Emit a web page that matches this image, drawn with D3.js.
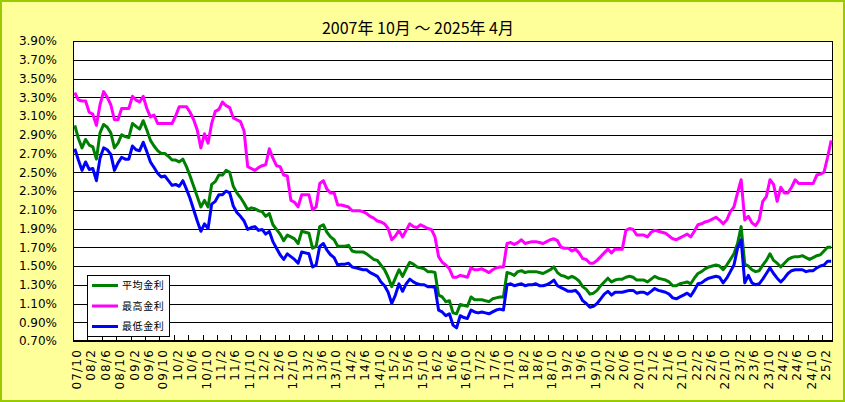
<!DOCTYPE html>
<html><head><meta charset="utf-8">
<script src="https://cdn.jsdelivr.net/npm/d3@7"></script>
<style>body{margin:0;background:#fff}</style>
</head><body>
<svg id="c" width="845" height="402"></svg>
<script>
const title = "2007年 10月 ～ 2025年 4月";
const seriesNames = ["平均金利", "最高金利", "最低金利"];
const seriesColors = ["#008000", "#FF00FF", "#0000FF"];

const avgRate = [
3.00,2.86,2.76,2.85,2.79,2.77,2.64,2.92,3.01,2.98,
2.92,2.76,2.81,2.90,2.88,2.87,3.02,2.99,2.96,3.05,
2.95,2.84,2.78,2.73,2.70,2.70,2.67,2.63,2.63,2.61,
2.64,2.56,2.46,2.35,2.24,2.13,2.20,2.13,2.37,2.40,
2.47,2.47,2.52,2.50,2.35,2.28,2.23,2.17,2.10,2.12,
2.11,2.09,2.08,2.03,2.06,1.94,1.89,1.84,1.77,1.83,
1.81,1.79,1.74,1.87,1.86,1.85,1.69,1.71,1.92,1.94,
1.86,1.81,1.78,1.71,1.71,1.71,1.72,1.66,1.65,1.65,
1.65,1.63,1.60,1.57,1.56,1.51,1.46,1.38,1.28,1.37,
1.46,1.39,1.47,1.54,1.52,1.49,1.48,1.47,1.44,1.44,
1.43,1.19,1.17,1.12,1.13,1.00,0.99,1.09,1.08,1.07,
1.17,1.14,1.14,1.14,1.13,1.12,1.15,1.16,1.17,1.17,
1.43,1.42,1.40,1.44,1.45,1.43,1.44,1.44,1.44,1.43,
1.42,1.44,1.46,1.49,1.43,1.40,1.39,1.37,1.39,1.37,
1.34,1.28,1.25,1.20,1.21,1.24,1.29,1.33,1.37,1.33,
1.35,1.36,1.36,1.38,1.39,1.38,1.35,1.35,1.35,1.33,
1.36,1.39,1.37,1.36,1.35,1.33,1.29,1.29,1.31,1.32,
1.33,1.31,1.37,1.42,1.44,1.47,1.49,1.50,1.51,1.50,
1.46,1.51,1.57,1.63,1.74,1.92,1.52,1.50,1.46,1.44,
1.45,1.51,1.56,1.63,1.56,1.53,1.49,1.53,1.57,1.59,
1.60,1.60,1.61,1.59,1.57,1.59,1.61,1.62,1.66,1.70,
1.70];

const maxRate = [
3.35,3.27,3.26,3.26,3.14,3.12,3.00,3.22,3.36,3.30,
3.22,3.06,3.06,3.18,3.18,3.18,3.31,3.27,3.25,3.31,
3.18,3.09,3.11,3.02,3.02,3.02,3.02,3.02,3.10,3.20,
3.20,3.20,3.14,3.06,2.95,2.76,2.91,2.81,3.02,3.15,
3.17,3.25,3.21,3.19,3.08,3.06,3.04,2.94,2.56,2.54,
2.52,2.55,2.57,2.58,2.75,2.65,2.57,2.56,2.47,2.46,
2.20,2.18,2.13,2.26,2.26,2.26,2.10,2.13,2.38,2.41,
2.32,2.28,2.28,2.15,2.15,2.14,2.13,2.09,2.09,2.09,
2.08,2.06,2.03,2.01,1.98,1.97,1.95,1.90,1.78,1.82,
1.88,1.81,1.88,1.95,1.92,1.91,1.94,1.92,1.90,1.89,
1.81,1.60,1.54,1.51,1.47,1.38,1.38,1.40,1.39,1.38,
1.48,1.46,1.46,1.47,1.45,1.43,1.46,1.48,1.49,1.49,
1.74,1.75,1.73,1.75,1.78,1.74,1.75,1.76,1.76,1.75,
1.74,1.76,1.78,1.79,1.77,1.70,1.69,1.69,1.66,1.68,
1.64,1.58,1.57,1.53,1.53,1.56,1.60,1.64,1.68,1.64,
1.68,1.68,1.68,1.88,1.90,1.89,1.83,1.83,1.83,1.81,
1.86,1.88,1.87,1.86,1.85,1.82,1.79,1.78,1.80,1.82,
1.84,1.81,1.87,1.94,1.95,1.97,1.98,2.00,2.02,1.99,
1.95,1.99,2.08,2.13,2.28,2.42,1.99,2.03,1.96,1.93,
1.99,2.19,2.24,2.42,2.37,2.19,2.34,2.28,2.28,2.34,
2.42,2.38,2.38,2.38,2.38,2.38,2.47,2.48,2.50,2.66,
2.84];

const minRate = [
2.75,2.63,2.52,2.61,2.53,2.54,2.41,2.65,2.76,2.74,
2.69,2.52,2.60,2.66,2.64,2.64,2.78,2.74,2.73,2.82,
2.72,2.61,2.55,2.49,2.45,2.46,2.41,2.36,2.37,2.35,
2.41,2.32,2.22,2.10,1.98,1.87,1.95,1.90,2.16,2.19,
2.26,2.26,2.30,2.28,2.14,2.07,2.03,1.98,1.89,1.91,
1.92,1.88,1.89,1.84,1.87,1.76,1.69,1.62,1.57,1.63,
1.60,1.57,1.53,1.65,1.64,1.63,1.49,1.51,1.71,1.74,
1.67,1.62,1.59,1.51,1.52,1.52,1.53,1.49,1.48,1.47,
1.46,1.46,1.43,1.41,1.39,1.33,1.29,1.22,1.10,1.19,
1.31,1.23,1.31,1.36,1.33,1.31,1.30,1.30,1.28,1.28,
1.27,1.03,1.01,0.97,0.99,0.87,0.84,0.97,0.95,0.94,
1.03,1.01,1.00,1.01,1.00,0.99,1.01,1.03,1.04,1.03,
1.30,1.31,1.29,1.30,1.31,1.29,1.30,1.30,1.31,1.29,
1.29,1.30,1.32,1.35,1.29,1.27,1.25,1.23,1.23,1.24,
1.20,1.13,1.10,1.06,1.07,1.10,1.15,1.20,1.23,1.19,
1.22,1.22,1.22,1.23,1.24,1.24,1.21,1.22,1.22,1.20,
1.23,1.26,1.24,1.23,1.22,1.20,1.16,1.15,1.17,1.19,
1.21,1.18,1.24,1.31,1.32,1.35,1.37,1.38,1.39,1.38,
1.32,1.37,1.44,1.51,1.69,1.78,1.32,1.40,1.32,1.30,
1.31,1.36,1.42,1.48,1.42,1.37,1.33,1.37,1.42,1.45,
1.46,1.46,1.46,1.44,1.45,1.45,1.48,1.50,1.51,1.55,
1.55];

const yTicks = [0.7,0.9,1.1,1.3,1.5,1.7,1.9,2.1,2.3,2.5,2.7,2.9,3.1,3.3,3.5,3.7,3.9];
const tickLabels = ["07/10","08/2","08/6","08/10","09/2","09/6","09/10","10/2","10/6","10/10",
"11/2","11/6","11/10","12/2","12/6","12/10","13/2","13/6","13/10","14/2","14/6","14/10",
"15/2","15/6","15/10","16/2","16/6","16/10","17/2","17/6","17/10","18/2","18/6","18/10",
"19/2","19/6","19/10","20/2","20/6","20/10","21/2","21/6","21/10","22/2","22/6","22/10",
"23/2","23/6","23/10","24/2","24/6","24/10","25/2"];

// monthly categories 2007/10 .. 2025/4
const categories = [];
for (let k = 0; k < avgRate.length; k++) {
  const m0 = 9 + k;
  const yy = 7 + Math.floor(m0 / 12);
  const mm = (m0 % 12) + 1;
  categories.push(String(yy).padStart(2, "0") + "/" + mm);
}

const series = [avgRate, maxRate, minRate];

const W = 845, H = 402;
const L = 73, R = 833, T = 41, B = 341;
const svg = d3.select("#c");

svg.append("rect").attr("x", 1).attr("y", 1).attr("width", W - 2).attr("height", H - 2)
  .attr("fill", "#FFFF99").attr("stroke", "#99CC00").attr("stroke-width", 2);

const x = d3.scaleBand().domain(categories).range([L, R]).padding(0);
const y = d3.scaleLinear().domain([0.7, 3.9]).range([B, T]);
const cx = c => x(c) + x.bandwidth() / 2;

svg.append("rect").attr("x", L).attr("y", T).attr("width", R - L).attr("height", B - T)
  .attr("fill", "#FFFFFF");

// y axis + gridlines
const gy = svg.append("g").attr("transform", `translate(${L},0)`)
  .call(d3.axisLeft(y).tickValues(yTicks).tickSize(-(R - L)).tickPadding(16)
    .tickFormat(d => d.toFixed(2) + "%"));
gy.select(".domain").remove();
gy.selectAll("line").attr("stroke", "#000").attr("stroke-width", 1).attr("shape-rendering", "crispEdges");
gy.selectAll("text").attr("font-family", "'DejaVu Sans', Verdana, sans-serif")
  .attr("font-size", 12).attr("fill", "#000");

// x tick marks (between categories, every 4 months, pointing inward)
const tickMarks = tickLabels.slice(1);
svg.append("g").selectAll("line").data(tickMarks).join("line")
  .attr("x1", d => Math.round(x(d)) + 0.5).attr("x2", d => Math.round(x(d)) + 0.5)
  .attr("y1", B).attr("y2", B - 6).attr("stroke", "#000").attr("stroke-width", 1);

// x labels
const gx = svg.append("g").attr("transform", `translate(0,${B})`)
  .call(d3.axisBottom(x).tickValues(tickLabels).tickSize(0).tickPadding(0));
gx.select(".domain").remove();
gx.selectAll("text")
  .attr("font-family", "'DejaVu Sans', Verdana, sans-serif").attr("font-size", 12)
  .attr("letter-spacing", "1.2px")
  .attr("fill", "#000")
  .attr("text-anchor", "end")
  .attr("transform", "rotate(-90)")
  .attr("x", -8).attr("y", 2).attr("dy", "0.35em");

// plot frame
svg.append("rect").attr("x", L + 0.5).attr("y", T + 0.5).attr("width", R - L - 1).attr("height", B - T - 1)
  .attr("fill", "none").attr("stroke", "#000").attr("stroke-width", 1);

// lines
const line = d3.line().x((d, i) => cx(categories[i])).y(d => y(d));
series.forEach((s, k) => {
  svg.append("path").datum(s).attr("d", line).attr("fill", "none")
    .attr("stroke", seriesColors[k]).attr("stroke-width", 3)
    .attr("stroke-linejoin", "round");
});

// title
svg.append("text").attr("x", 418).attr("y", 34).attr("text-anchor", "middle")
  .attr("font-family", "'Noto Sans CJK JP', sans-serif").attr("font-size", 16)
  .attr("fill", "#000").text(title);

// legend
const lg = svg.append("g");
lg.append("rect").attr("x", 87.5).attr("y", 275.5).attr("width", 82).attr("height", 61)
  .attr("fill", "#FFFFFF").attr("stroke", "#000").attr("stroke-width", 1);
const rowsY = [285.5, 306, 326.5];
seriesNames.forEach((n, k) => {
  lg.append("line").attr("x1", 92).attr("x2", 118).attr("y1", rowsY[k]).attr("y2", rowsY[k])
    .attr("stroke", seriesColors[k]).attr("stroke-width", 3);
  lg.append("text").attr("x", 122).attr("y", rowsY[k]).attr("dy", "0.36em")
    .attr("font-family", "'Noto Sans CJK JP', sans-serif").attr("font-size", 10)
    .attr("letter-spacing", "0.6px").attr("fill", "#000").text(n);
});
</script>
</body></html>
